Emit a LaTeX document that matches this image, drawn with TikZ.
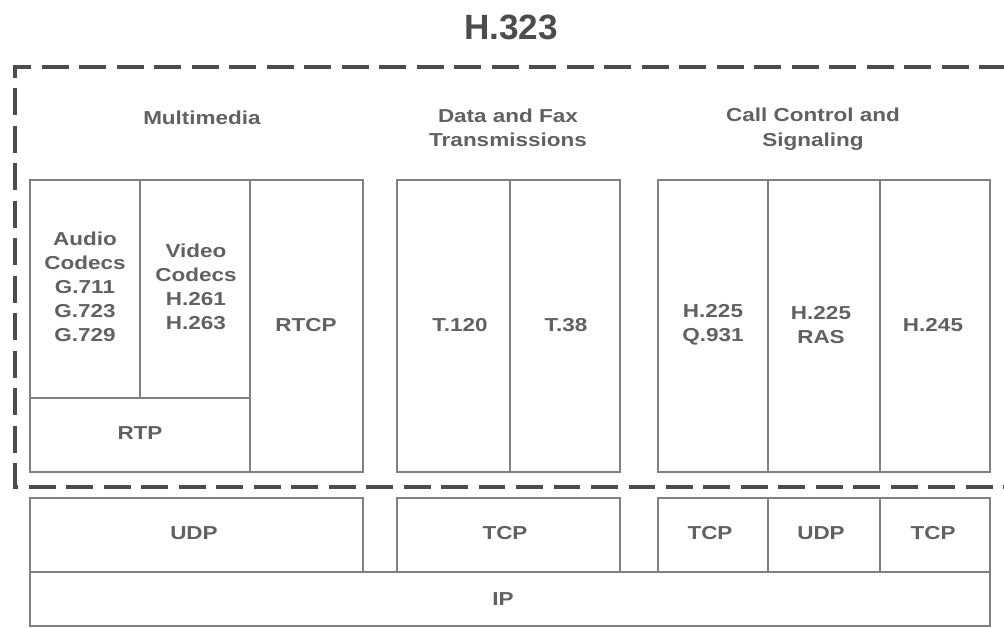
\documentclass[tikz,border=0pt]{standalone}
\usepackage{fontspec}
\usetikzlibrary{fit}
\newfontfamily\scanfont[FakeStretch=1.2]{Liberation Sans}
\newfontfamily\titlefont{Liberation Sans}
\tikzset{
  box/.style={draw=black!50, line width=1.6pt, inner sep=0pt},
  lbl/.style={inner sep=0pt, align=center, text=black!62,
    font=\scanfont\bfseries\fontsize{16}{20.5}\selectfont},
  txt/.style={inner sep=0pt, align=center, text=black!62,
    font=\scanfont\bfseries\fontsize{16}{21}\selectfont},
  border/.style={draw=black!70, line width=3.3pt, dash pattern=on 23pt off 9pt},
}
\begin{document}
\begin{tikzpicture}[x=0.03cm, y=-0.03cm]
\useasboundingbox (0,0) rectangle (1004,628);
% title
\node[inner sep=0pt, text=black!70, font=\titlefont\bfseries\fontsize{30}{30}\selectfont] (title) at (511,27) {H.323};
% dashed border
\coordinate (btr) at (1006,67);
\coordinate (btl) at (15,67);
\coordinate (bbl) at (15,487);
\coordinate (bbr) at (1006,487);
\draw[border] (btr) -- (btl) -- (bbl) -- (bbr);
% section headings
\node[txt] (hmm) at (202,118) {Multimedia};
\node[txt] (hdf) at (508,128) {Data and Fax\\Transmissions};
\node[txt] (hcc) at (813,129) {Call Control and\\Signaling};
% multimedia
\node[box, fit={(30,180)(140,398)}] (audio) {};
\node[box, fit={(140,180)(250,398)}] (video) {};
\node[box, fit={(30,398)(250,472)}] (rtp) {};
\node[box, fit={(250,180)(363,472)}] (rtcp) {};
% data and fax
\node[box, fit={(397,180)(510,472)}] (t120) {};
\node[box, fit={(510,180)(620,472)}] (t38) {};
% call control
\node[box, fit={(658,180)(768,472)}] (q931) {};
\node[box, fit={(768,180)(880,472)}] (ras) {};
\node[box, fit={(880,180)(990,472)}] (h245) {};
% transport
\node[box, fit={(30,498)(363,572)}] (udp1) {};
\node[box, fit={(397,498)(620,572)}] (tcp1) {};
\node[box, fit={(658,498)(768,572)}] (tcp2) {};
\node[box, fit={(768,498)(880,572)}] (udp2) {};
\node[box, fit={(880,498)(990,572)}] (tcp3) {};
\node[box, fit={(30,572)(990,626)}] (ip) {};
% labels
\node[lbl] (laudio) at (85,287) {Audio\\Codecs\\G.711\\G.723\\G.729};
\node[lbl] (lvideo) at (196,287) {Video\\Codecs\\H.261\\H.263};
\node[lbl] (lrtp) at (140,433) {RTP};
\node[lbl] (lrtcp) at (306,325) {RTCP};
\node[lbl] (lt120) at (460,325) {T.120};
\node[lbl] (lt38) at (566,325) {T.38};
\node[lbl] (lq931) at (713,325) {H.225\\Q.931};
\node[lbl] (lras) at (821,325) {H.225\\RAS};
\node[lbl] (lh245) at (933,325) {H.245};
\node[lbl] (ludp1) at (194,533) {UDP};
\node[lbl] (ltcp1) at (505,533) {TCP};
\node[lbl] (ltcp2) at (710,533) {TCP};
\node[lbl] (ludp2) at (821,533) {UDP};
\node[lbl] (ltcp3) at (933,533) {TCP};
\node[lbl] (lip) at (503,599) {IP};
\end{tikzpicture}
\end{document}
